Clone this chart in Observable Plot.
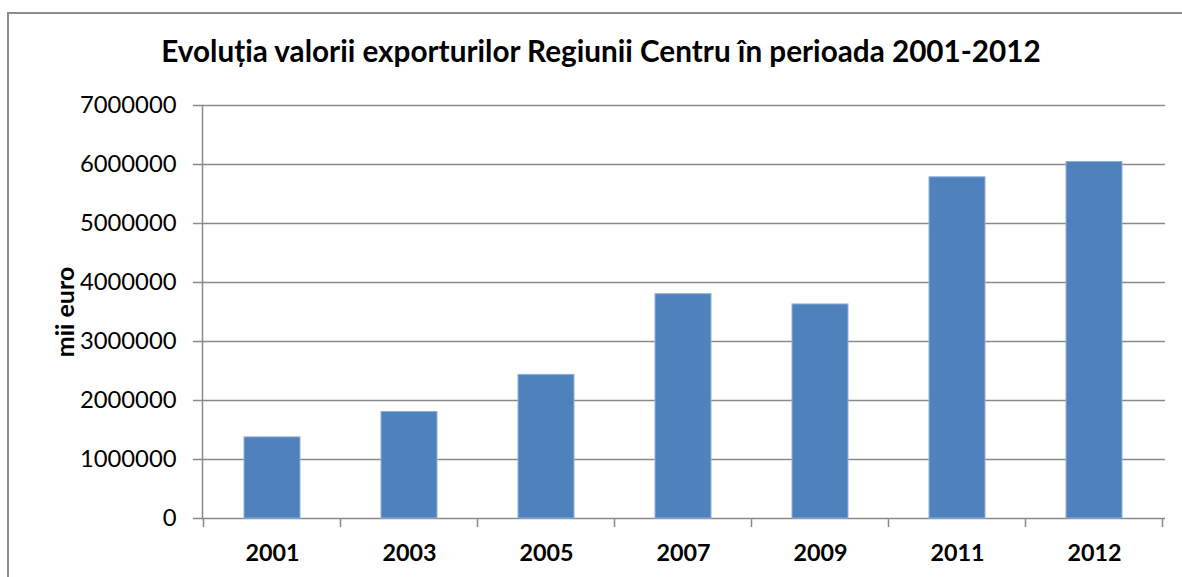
<!DOCTYPE html>
<html>
<head>
<meta charset="utf-8">
<script src="https://cdn.jsdelivr.net/npm/d3@7"></script>
<script src="https://cdn.jsdelivr.net/npm/@observablehq/plot@0.6"></script>
<style>
  html, body { margin: 0; padding: 0; background: #fff; overflow: hidden; }
  #chart { position: relative; width: 1182px; height: 577px; overflow: hidden; font-family: Lato, "Open Sans", sans-serif; }
  #border { position: absolute; left: 7px; top: 12px; width: 1300px; height: 700px; border: 2px solid #8c8c8c; box-sizing: border-box; }
  #title { position: absolute; left: 8px; width: 1186px; top: 31.5px; line-height: 38px; text-align: center; font-size: 29.7px; font-weight: bold; color: #000; white-space: nowrap; }
  #plot { position: absolute; left: 0; top: 90px; }
</style>
</head>
<body>
<div id="chart">
  <div id="border"></div>
  <div id="title">Evoluția valorii exporturilor Regiunii Centru în perioada 2001-2012</div>
  <div id="plot"></div>
</div>
<script>
const titleText = "Evoluția valorii exporturilor Regiunii Centru în perioada 2001-2012";
const yAxisLabel = "mii euro";
const years = ["2001", "2003", "2005", "2007", "2009", "2011", "2012"];
const exportsValues = [1375000, 1806000, 2434000, 3802000, 3628000, 5783000, 6043000];
const yTicks = [0, 1000000, 2000000, 3000000, 4000000, 5000000, 6000000, 7000000];

const data = years.map((year, i) => ({year, value: exportsValues[i]}));
const gridColor = "#8a8a8a";

// tick marks at category boundaries, derived from the band scale
function boundaryTicks(index, scales, values, dims) {
  const x = scales.x;
  const gap = x.step() - x.bandwidth();
  const y0 = dims.height - dims.marginBottom;
  const g = d3.create("svg:g");
  const xs = years.map(d => x(d) - gap / 2);
  xs.push(x(years[years.length - 1]) + x.bandwidth() + gap / 2);
  for (const px of xs) {
    g.append("line")
      .attr("x1", px).attr("x2", px)
      .attr("y1", y0).attr("y2", y0 + 9)
      .attr("stroke", gridColor).attr("stroke-width", 1.5);
  }
  return g.node();
}

const chart = Plot.plot({
  width: 1182,
  height: 487,
  marginLeft: 202,
  marginRight: 17,
  marginTop: 15,
  marginBottom: 59,
  style: {fontFamily: "Lato, 'Open Sans', sans-serif", color: "#000", background: "transparent"},
  x: {domain: years, paddingInner: 0.59, paddingOuter: 0.295, label: null},
  y: {domain: [0, 7000000], label: null},
  marks: [
    Plot.ruleY(yTicks, {stroke: gridColor, strokeWidth: 1.5}),
    Plot.axisY({ticks: yTicks, tickSize: 9, tickPadding: 17, tickFormat: d => String(d), fontSize: 23.8, stroke: gridColor, strokeWidth: 1.5, label: null}),
    Plot.frame({anchor: "left", stroke: gridColor, strokeWidth: 1.5}),
    Plot.barY(data, {x: "year", y: "value", fill: "#4F81BD", stroke: "#8fb0dc", strokeWidth: 1}),
    Plot.axisX({tickSize: 0, tickPadding: 26, fontSize: 23.3, fontWeight: "bold", label: null}),
    boundaryTicks,
    Plot.text([yAxisLabel], {frameAnchor: "left", text: d => d, rotate: -90, dx: -137, textAnchor: "middle", lineAnchor: "middle", fontSize: 25, fontWeight: "bold", fill: "#000"})
  ]
});
document.getElementById("plot").appendChild(chart);
</script>
</body>
</html>
